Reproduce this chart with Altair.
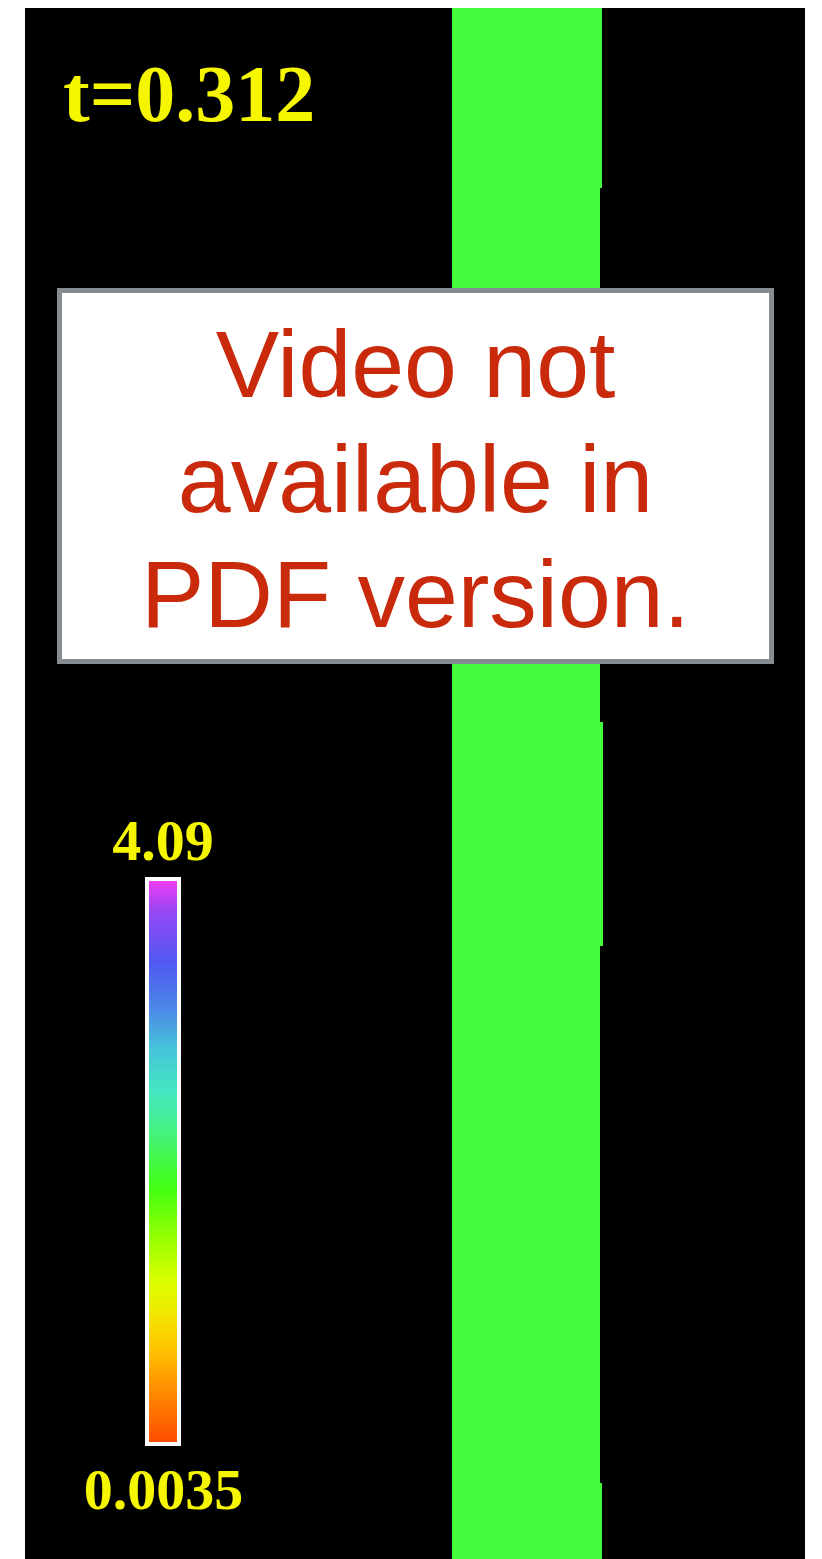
import altair as alt
import pandas as pd

# Simulation panel: 780 x 1551 px, y measured downward from the top edge
PANEL_W = 780
PANEL_H = 1551

# Density band (uniform value), stored as vertical segments with their right edges
band_left = [427, 427, 427, 427, 427]
band_right = [577, 575, 578, 575, 577]
band_top = [0, 180, 714, 938, 1475]
band_bottom = [180, 714, 938, 1475, 1551]

# Frame time stamp
time_label = ["t=0.312"]

# Colour bar range labels
cbar_max = "4.09"
cbar_min = "0.0035"

# Rainbow colour map used by the colour bar (top = max, bottom = min)
cmap_offsets = [0.0, 0.06, 0.147, 0.232, 0.30, 0.375, 0.437, 0.546, 0.642, 0.71, 0.765, 0.833, 0.90, 1.0]
cmap_colors = ["#F23CF2", "#9448F5", "#5058F2", "#4C8AE8", "#46C4DA", "#44E6C2", "#44F08A",
               "#42FF12", "#9CFF00", "#D8FF00", "#F0EA00", "#FFC400", "#FF9000", "#FF4A00"]

# Placeholder notice lines
notice_lines = ["Video not", "available in", "PDF version."]

x_scale = alt.Scale(domain=[0, PANEL_W])
y_scale = alt.Scale(domain=[0, PANEL_H], reverse=True)


def X(f):
    return alt.X(f, type="quantitative", scale=x_scale, axis=None)


def Y(f):
    return alt.Y(f, type="quantitative", scale=y_scale, axis=None)


band_df = pd.DataFrame({"x0": band_left, "x1": band_right, "y0": band_top, "y1": band_bottom})
band = alt.Chart(band_df).mark_rect(color="#43FC3E").encode(
    x=X("x0"), x2="x1", y=Y("y0"), y2="y1"
)

time_df = pd.DataFrame({"label": time_label, "x": [38], "y": [113]})
time_text = alt.Chart(time_df).mark_text(
    font="Liberation Serif", fontWeight="bold", fontSize=80, color="#F6F600",
    align="left", baseline="alphabetic"
).encode(x=X("x"), y=Y("y"), text="label:N")

gradient = alt.LinearGradient(
    gradient="linear", x1=0, y1=0, x2=0, y2=1,
    stops=[alt.GradientStop(offset=o, color=c) for o, c in zip(cmap_offsets, cmap_colors)],
)
cbar_df = pd.DataFrame({"x0": [122], "x1": [154], "y0": [871], "y1": [1436]})
cbar = alt.Chart(cbar_df).mark_rect(fill=gradient, stroke="white", strokeWidth=4).encode(
    x=X("x0"), x2="x1", y=Y("y0"), y2="y1"
)

cbar_lab_df = pd.DataFrame({"label": [cbar_max, cbar_min], "x": [138, 138.5], "y": [852, 1501]})
cbar_labels = alt.Chart(cbar_lab_df).mark_text(
    font="Liberation Serif", fontWeight="bold", fontSize=58, color="#F6F600",
    align="center", baseline="alphabetic"
).encode(x=X("x"), y=Y("y"), text="label:N")

box_df = pd.DataFrame({"x0": [34.5], "x1": [746.5], "y0": [282.5], "y1": [653.5]})
box = alt.Chart(box_df).mark_rect(fill="white", stroke="#868B90", strokeWidth=5).encode(
    x=X("x0"), x2="x1", y=Y("y0"), y2="y1"
)

notice_df = pd.DataFrame({"line": notice_lines, "x": [390.5] * 3, "y": [389, 504, 619]})
notice = alt.Chart(notice_df).mark_text(
    font="Liberation Sans", fontSize=95, color="#C92A0C",
    align="center", baseline="alphabetic"
).encode(x=X("x"), y=Y("y"), text="line:N")

chart = alt.layer(band, time_text, cbar, cbar_labels, box, notice).properties(
    width=PANEL_W,
    height=PANEL_H,
    padding={"left": 25, "top": 8, "right": 17, "bottom": 0},
    autosize=alt.AutoSizeParams(type="none"),
    background="white",
).configure_view(fill="black", strokeWidth=0)

chart.save("out.html", embed_options={"renderer": "svg", "actions": False})
